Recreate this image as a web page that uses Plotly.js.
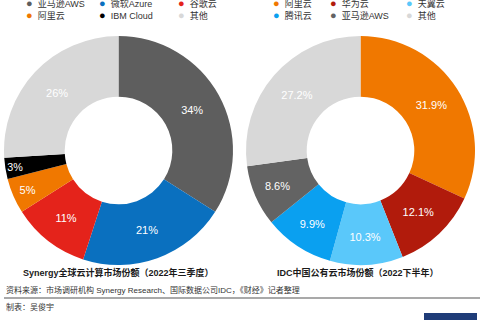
<!DOCTYPE html>
<html><head><meta charset="utf-8">
<script src="https://cdn.plot.ly/plotly-3.0.1.min.js"></script>
<style>html,body{margin:0;padding:0;background:#fff;}#chart{width:480px;height:320px;}</style>
</head><body><div id="chart"></div>
<script>
// Left: Synergy global cloud market share (Q3 2022)
const globalLabels = ['亚马逊AWS', '微软Azure', '谷歌云', '阿里云', 'IBM Cloud', '其他'];
const globalValues = [34, 21, 11, 5, 3, 26];
const globalColors = ['#5e5e5e', '#0a70bf', '#e4231b', '#f07800', '#000000', '#d8d8d8'];
const globalTitle = 'Synergy全球云计算市场份额（2022年三季度）';

// Right: IDC China public cloud market share (2022 H2)
const chinaLabels = ['阿里云', '华为云', '天翼云', '腾讯云', '亚马逊AWS', '其他'];
const chinaValues = [31.9, 12.1, 10.3, 9.9, 8.6, 27.2];
const chinaColors = ['#f07800', '#b11b0c', '#5ac8fa', '#0aa0f0', '#636363', '#d8d8d8'];
const chinaTitle = 'IDC中国公有云市场份额（2022下半年）';

const sourceText = '资料来源：市场调研机构 Synergy Research、国际数据公司IDC，《财经》记者整理';
const authorText = '制表：吴俊宇';

const FONT = 'Liberation Sans, Arial, Noto Sans CJK SC, sans-serif';
const W = 480, H = 320;
const px = x => x / W, py = y => 1 - y / H;

const traces = [
  {
    type: 'pie', labels: globalLabels, values: globalValues, sort: false,
    direction: 'clockwise', rotation: 0, hole: 0.47,
    marker: {colors: globalColors, line: {width: 0}},
    textinfo: 'text', texttemplate: '%{value}%', textposition: 'inside',
    insidetextorientation: 'horizontal',
    textfont: {color: '#ffffff', size: 11, family: FONT},
    domain: {x: [px(4), px(233)], y: [py(266), py(35)]},
    showlegend: false, hoverinfo: 'label+value'
  },
  {
    type: 'pie', labels: chinaLabels, values: chinaValues, sort: false,
    direction: 'clockwise', rotation: 0, hole: 0.47,
    marker: {colors: chinaColors, line: {width: 0}},
    textinfo: 'text', texttemplate: '%{value:.1f}%', textposition: 'inside',
    insidetextorientation: 'horizontal',
    textfont: {color: '#ffffff', size: 11, family: FONT},
    domain: {x: [px(246), px(475)], y: [py(266), py(35)]},
    showlegend: false, hoverinfo: 'label+value'
  }
];

const annotations = [];
function addLegend(labels, colors, colX, rowY) {
  labels.forEach((lab, i) => {
    const c = i % 3, r = Math.floor(i / 3);
    annotations.push({
      xref: 'paper', yref: 'paper', x: px(colX[c] - 5), y: py(rowY[r]),
      xanchor: 'left', yanchor: 'middle', showarrow: false, borderpad: 0,
      text: '<span style="color:' + colors[i] + ';font-size:11px">●</span>  ' + lab,
      font: {family: FONT, size: 9, color: '#333333'}
    });
  });
}
addLegend(globalLabels, globalColors, [30, 103, 182], [3, 15]);
addLegend(chinaLabels, chinaColors, [277, 334, 410], [3, 15]);

annotations.push(
  {xref: 'paper', yref: 'paper', x: px(118), y: py(272), xanchor: 'center', yanchor: 'middle', showarrow: false,
   text: '<b>' + globalTitle + '</b>', font: {family: FONT, size: 9, color: '#1a1a1a'}},
  {xref: 'paper', yref: 'paper', x: px(358), y: py(272), xanchor: 'center', yanchor: 'middle', showarrow: false,
   text: '<b>' + chinaTitle + '</b>', font: {family: FONT, size: 9, color: '#1a1a1a'}},
  {xref: 'paper', yref: 'paper', x: px(4), y: py(290), xanchor: 'left', yanchor: 'middle', showarrow: false,
   text: sourceText, font: {family: FONT, size: 8, color: '#333333'}},
  {xref: 'paper', yref: 'paper', x: px(4), y: py(307), xanchor: 'left', yanchor: 'middle', showarrow: false,
   text: authorText, font: {family: FONT, size: 8, color: '#333333'}}
);

const shapes = [
  {type: 'line', xref: 'paper', yref: 'paper', x0: px(4), x1: px(480), y0: py(298), y1: py(298),
   line: {color: '#8c8c8c', width: 1.5}},
  {type: 'rect', xref: 'paper', yref: 'paper', x0: px(424), x1: px(477), y0: py(320), y1: py(313),
   fillcolor: '#1f3c78', line: {width: 0}}
];

const layout = {
  width: W, height: H, margin: {l: 0, r: 0, t: 0, b: 0},
  paper_bgcolor: '#ffffff', plot_bgcolor: '#ffffff',
  font: {family: FONT},
  showlegend: false, annotations, shapes
};
Plotly.newPlot('chart', traces, layout, {displayModeBar: false, staticPlot: true});
</script></body></html>
